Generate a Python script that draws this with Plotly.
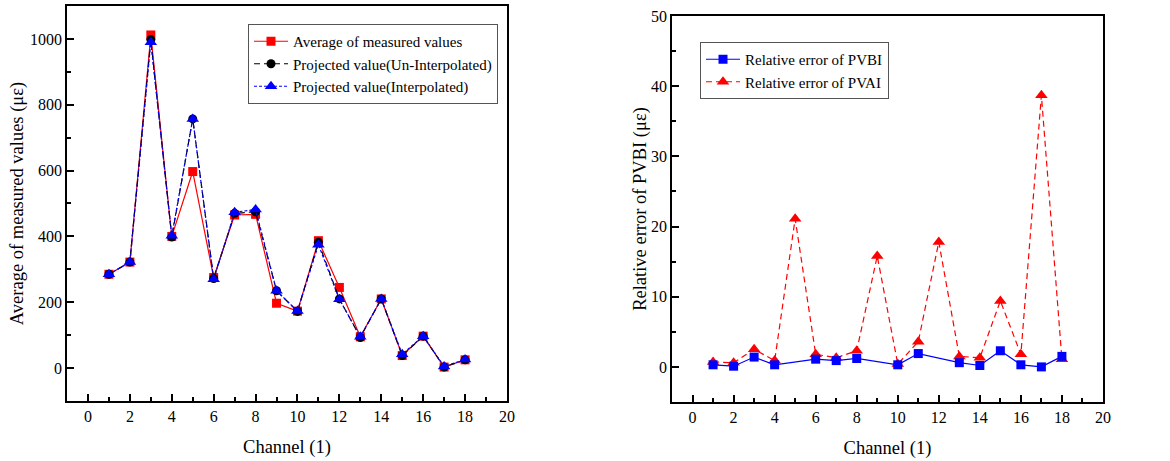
import plotly.graph_objects as go

channels = list(range(1, 19))
avg_measured = [285, 322, 1012, 400, 597, 275, 465, 467, 197, 173, 387, 245, 95, 210, 38, 97, 3, 25]
proj_uninterp = [285, 322, 998, 398, 757, 272, 470, 475, 235, 172, 382, 210, 93, 210, 38, 97, 3, 25]
proj_interp = [285, 322, 990, 402, 757, 270, 473, 482, 235, 173, 375, 209, 95, 210, 42, 97, 5, 26]

err_pvbi = [0.3, 0.1, 1.4, 0.3, None, 1.1, 0.9, 1.2, None, 0.3, 1.9, None, 0.6, 0.2, 2.3, 0.3, 0.0, 1.5]
err_pvai = [0.7, 0.6, 2.5, 0.9, 21.1, 1.8, 1.3, 2.3, 15.8, 0.4, 3.6, 17.8, 1.5, 1.3, 9.4, 1.8, 38.7, 1.1]

RED = "#ff0000"
BLUE = "#0000ff"
FONT = "Liberation Serif"

fig = go.Figure()

fig.add_trace(go.Scatter(x=channels, y=avg_measured, mode="lines+markers",
                         name="Average of measured values",
                         line=dict(color=RED, width=1.2),
                         marker=dict(symbol="square", size=9, color=RED),
                         xaxis="x", yaxis="y", legend="legend"))
fig.add_trace(go.Scatter(x=channels, y=proj_uninterp, mode="lines+markers",
                         name="Projected value(Un-Interpolated)",
                         line=dict(color="black", width=1.2, dash="6px,4px"),
                         marker=dict(symbol="circle", size=9, color="black"),
                         xaxis="x", yaxis="y", legend="legend"))
fig.add_trace(go.Scatter(x=channels, y=proj_interp, mode="lines+markers",
                         name="Projected value(Interpolated)",
                         line=dict(color=BLUE, width=1.2, dash="3px,2px"),
                         marker=dict(symbol="triangle-up", size=11, color=BLUE),
                         xaxis="x", yaxis="y", legend="legend"))

fig.add_trace(go.Scatter(x=channels, y=err_pvai, mode="lines+markers",
                         name="Relative error of PVAI", legendrank=2,
                         line=dict(color=RED, width=1.2, dash="6px,4px"),
                         marker=dict(symbol="triangle-up", size=11, color=RED),
                         xaxis="x2", yaxis="y2", legend="legend2"))
fig.add_trace(go.Scatter(x=channels, y=err_pvbi, mode="lines+markers",
                         name="Relative error of PVBI", legendrank=1, connectgaps=True,
                         line=dict(color=BLUE, width=1.2),
                         marker=dict(symbol="square", size=9, color=BLUE),
                         xaxis="x2", yaxis="y2", legend="legend2"))

axis_common = dict(showline=True, linecolor="black", linewidth=1.6, mirror=True,
                   ticks="inside", ticklen=7, tickwidth=1.5, tickcolor="black",
                   showgrid=False, zeroline=False, automargin=False,
                   tickfont=dict(family=FONT, size=16, color="black"),
                   title_font=dict(family=FONT, size=18.5, color="black"))
minor_common = dict(ticks="inside", ticklen=4, tickwidth=1.5, tickcolor="black")

fig.update_layout(
    width=1170, height=461,
    margin=dict(l=0, r=0, t=0, b=0),
    paper_bgcolor="white", plot_bgcolor="white",
    font=dict(family=FONT, color="black"),
    xaxis=dict(domain=[0.0573, 0.4333], range=[-1, 20], dtick=2, tick0=0,
               minor=dict(dtick=1, **minor_common),
               title=dict(text="Channel (1)", standoff=16), anchor="y", **axis_common),
    yaxis=dict(domain=[0.1302, 0.987], range=[-100, 1100], dtick=200, tick0=0,
               minor=dict(dtick=100, **minor_common),
               title=dict(text="Average of measured values (με)", standoff=2), anchor="x", **axis_common),
    xaxis2=dict(domain=[0.5744, 0.9427], range=[-1, 20], dtick=2, tick0=0,
                minor=dict(dtick=1, **minor_common),
                title=dict(text="Channel (1)", standoff=16), anchor="y2", **axis_common),
    yaxis2=dict(domain=[0.128, 0.9653], range=[-5, 50], dtick=10, tick0=0,
                minor=dict(dtick=5, **minor_common),
                title=dict(text="Relative error of PVBI (με)", standoff=0), anchor="x2", **axis_common),
    legend=dict(x=248/1170, y=(461-24)/461, xanchor="left", yanchor="top",
                bgcolor="white", bordercolor="#555555", borderwidth=1,
                font=dict(family=FONT, size=15, color="black"),
                tracegroupgap=0, itemwidth=34),
    legend2=dict(x=700/1170, y=(461-42)/461, xanchor="left", yanchor="top",
                 bgcolor="white", bordercolor="#555555", borderwidth=1,
                 font=dict(family=FONT, size=15, color="black"),
                 tracegroupgap=0, itemwidth=34, traceorder="normal"),
    showlegend=True,
)

fig.write_html("out.html")
